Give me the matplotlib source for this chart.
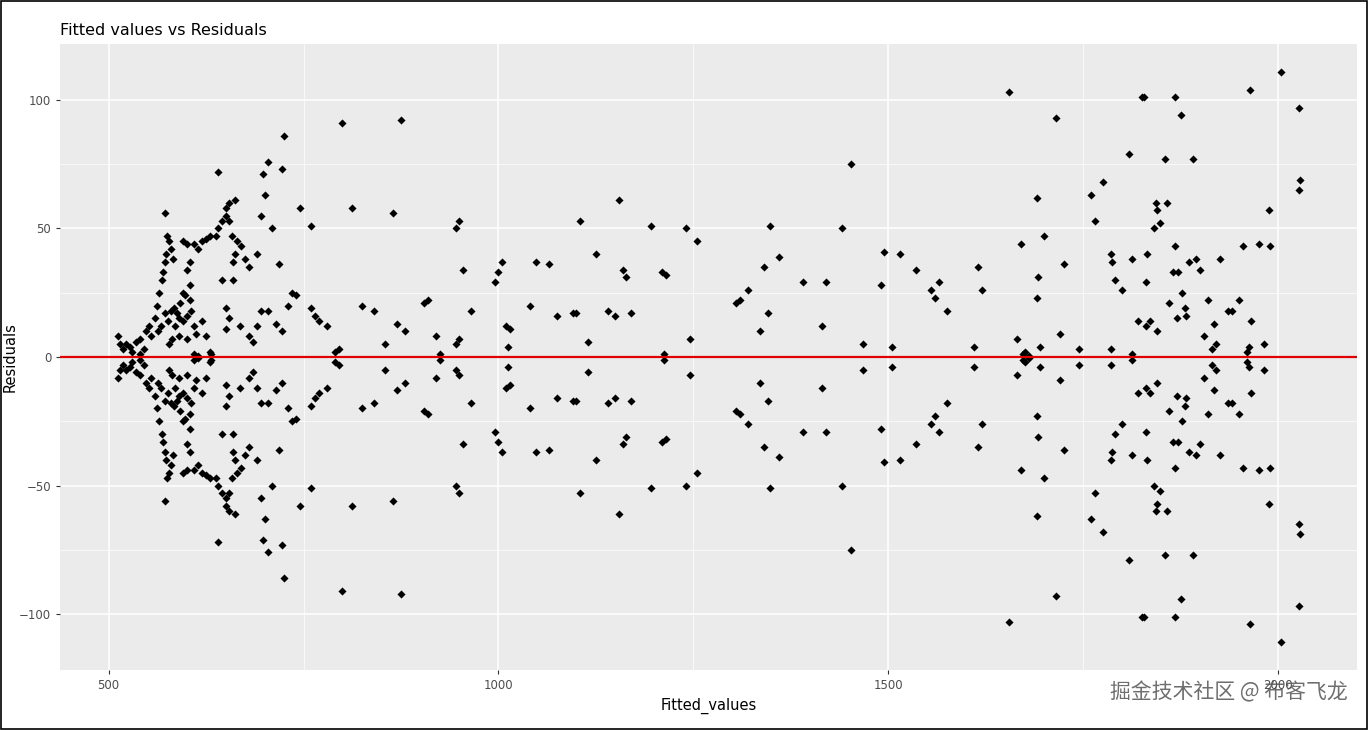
import numpy as np
import matplotlib.pyplot as plt
from matplotlib.ticker import MultipleLocator

# fitted value and |residual| of the points above zero; the plot is mirrored below
pts = [(512,8),(515,5),(518,3),(522,5),(528,4),(535,6),(540,7),(545,3),(548,10),(552,12),(555,8),(530,2),(540,1),
       (562,20),(565,25),(568,30),(570,33),(572,37),(574,40),(575,47),(573,56),(578,45),(580,42),(583,38),(560,15),
       (563,10),(567,12),(572,17),(576,14),(580,18),(584,19),(588,17),(590,15),(595,14),(600,16),(585,12),(592,21),
       (596,25),(598,24),(604,22),(606,18),(610,12),(612,9),(620,14),(625,8),(630,2),(578,5),(582,7),(590,8),(600,7),
       (610,1),(615,0.5),(632,1),(600,34),(605,37),(610,44),(615,42),(620,45),(625,46),(630,47),(638,47),(645,53),
       (650,55),(640,50),(655,53),(650,58),(655,60),(662,61),(658,47),(665,45),(670,43),(662,40),(640,72),(645,30),
       (660,30),(600,44),(595,45),(605,28),(660,37),(675,38),(680,35),(690,40),(695,55),(700,63),(698,71),(705,76),
       (725,86),(745,58),(760,51),(800,91),(812,58),(875,92),(865,56),(710,50),(718,36),(730,20),(735,25),(740,24),
       (722,73),(695,18),(705,18),(715,13),(722,10),(690,12),(685,6),(680,8),(668,12),(650,19),(655,15),(650,11),
       (760,19),(765,16),(770,14),(780,12),(790,2),(795,3),(825,20),(840,18),(855,5),(870,13),(880,10),(905,21),
       (910,22),(925,1),(920,8),(945,50),(950,53),(955,34),(945,5),(950,7),(965,18),(995,29),(1000,33),(1005,37),
       (1010,12),(1012,4),(1015,11),(1040,20),(1048,37),(1065,36),(1075,16),(1095,17),(1100,17),(1105,53),(1115,6),
       (1125,40),(1140,18),(1150,16),(1155,61),(1160,34),(1163,31),(1170,17),(1195,51),(1210,33),(1212,1),(1215,32),
       (1240,50),(1245,7),(1255,45),(1305,21),(1310,22),(1320,26),(1335,10),(1340,35),(1345,17),(1348,51),(1360,39),
       (1390,29),(1415,12),(1420,29),(1440,50),(1452,75),(1468,5),(1490,28),(1495,41),(1505,4),(1515,40),(1535,34),
       (1555,26),(1560,23),(1565,29),(1575,18),(1610,4),(1615,35),(1620,26),(1655,103),(1665,7),(1670,44),(1672,1),
       (1675,2),(1690,62),(1692,31),(1690,23),(1695,4),(1700,47),(1715,93),(1720,9),(1725,36),(1745,3),(1760,63),
       (1765,53),(1775,68),(1785,40),(1787,37),(1790,30),(1785,3),(1800,26),(1808,79),(1812,38),(1820,14),(1825,101),
       (1828,101),(1830,29),(1832,40),(1835,14),(1840,50),(1843,60),(1845,57),(1848,52),(1855,77),(1857,60),(1860,21),
       (1865,33),(1867,101),(1868,43),(1870,15),(1872,33),(1875,94),(1877,25),(1880,19),(1882,16),(1890,77),(1895,38),
       (1900,34),(1905,8),(1910,22),(1915,3),(1918,13),(1925,38),(1935,18),(1940,18),(1950,22),(1955,43),(1960,2),
       (1962,4),(1965,14),(1964,104),(1975,44),(1982,5),(1988,57),(1990,43),(2004,111),(2026,65),(2027,97),(2028,69),
       (1830,12),(1845,10),(1885,37),(1812,1),(1920,5),(1680,0.5)]
fitted_half = np.array([p[0] for p in pts], dtype=float)
resid_half = np.array([p[1] for p in pts], dtype=float)
fitted = np.concatenate([fitted_half, fitted_half])
resid = np.concatenate([resid_half, -resid_half])

fig = plt.figure(figsize=(13.68, 7.3), dpi=100)
ax = fig.add_axes([0.044, 0.082, 0.948, 0.858])
ax.set_facecolor('#EBEBEB')
for s in ax.spines.values():
    s.set_visible(False)

ax.scatter(fitted, resid, s=17, color='black', marker='D', zorder=3, linewidths=0)
ax.axhline(0, color='#E00000', lw=1.6, zorder=4)

ax.set_xlim(438, 2101)
ax.set_ylim(-121.8, 121.8)
ax.xaxis.set_major_locator(MultipleLocator(500))
ax.xaxis.set_minor_locator(MultipleLocator(250))
ax.yaxis.set_major_locator(MultipleLocator(50))
ax.yaxis.set_minor_locator(MultipleLocator(25))
ax.grid(which='major', color='white', lw=1.1, zorder=0)
ax.grid(which='minor', color='white', lw=0.5, zorder=0)
ax.set_axisbelow(True)
ax.tick_params(which='major', length=3, color='#333333', labelsize=8.5, labelcolor='#4D4D4D')
ax.tick_params(which='minor', length=0)

ax.set_xlabel('Fitted_values', fontsize=10.5, labelpad=4)
ax.set_ylabel('Residuals', fontsize=10.5, labelpad=2)
ax.yaxis.set_label_coords(-0.033, 0.5)
ax.set_title('Fitted values vs Residuals', loc='left', fontsize=11.5, pad=6)

fig.text(0.985, 0.052, '掘金技术社区 @ 布客飞龙', ha='right', va='center', fontsize=15,
         color='#555555', alpha=0.85, family=['Noto Sans CJK SC', 'DejaVu Sans'])
fig.patches.append(plt.Rectangle((0.0005, 0.001), 0.999, 0.998, transform=fig.transFigure,
                                 fill=False, edgecolor='black', lw=1.2))

fig.savefig('out.png', dpi=100)
